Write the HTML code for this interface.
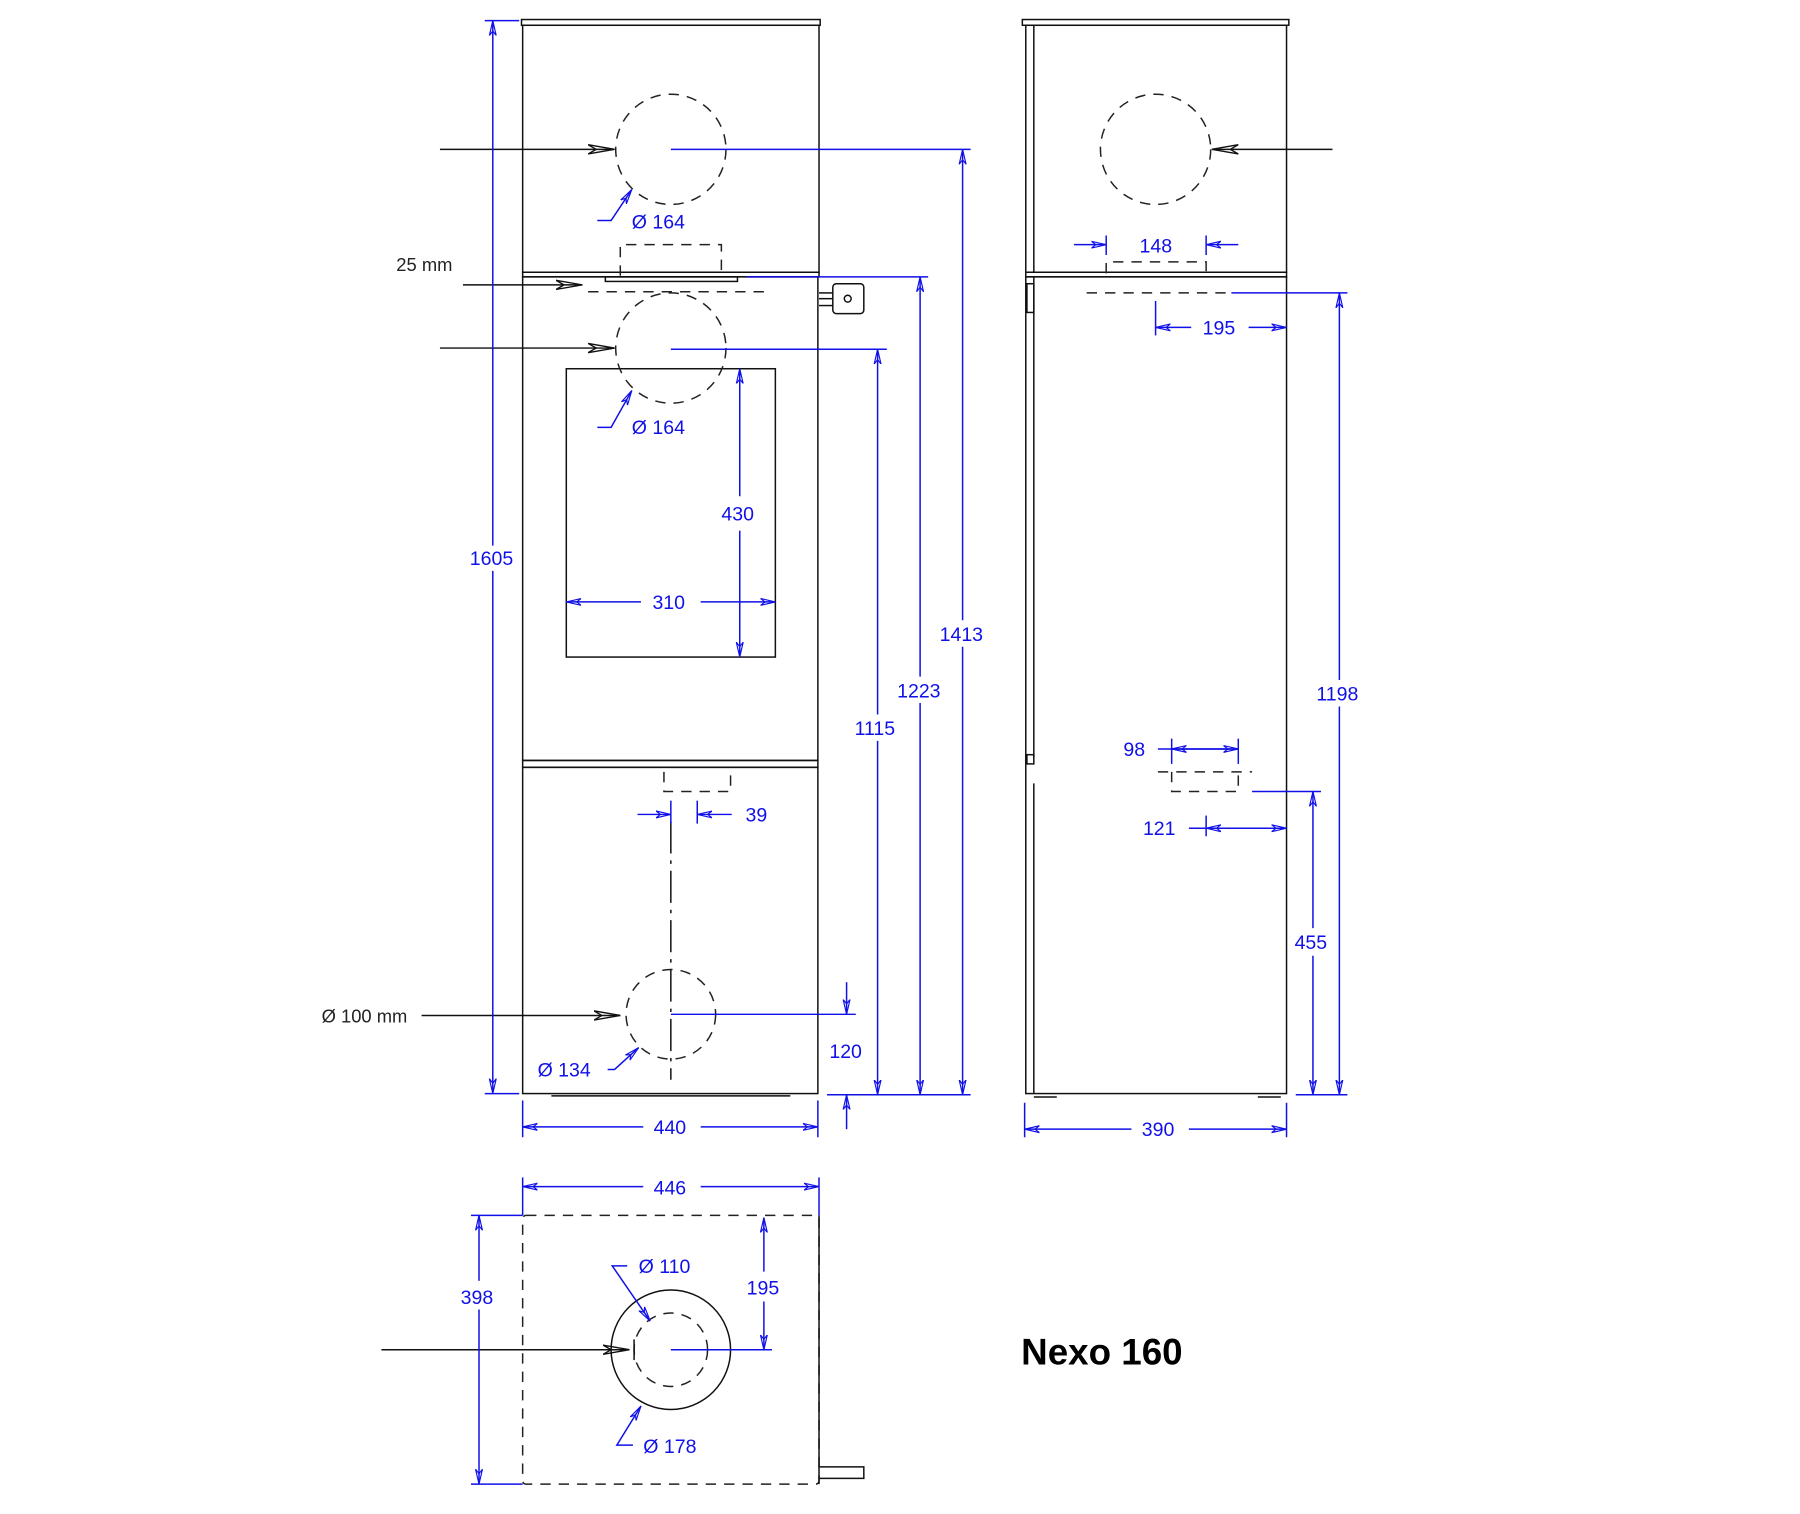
<!DOCTYPE html>
<html><head><meta charset="utf-8"><style>
html,body{margin:0;padding:0;background:#fff;}
svg{display:block;}
text{font-family:"Liberation Sans",sans-serif;}
.k{stroke:#111;stroke-width:1.3;fill:none;}
.d{stroke:#222;stroke-width:1.3;fill:none;stroke-dasharray:9 7;}
.b{stroke:#1010e8;stroke-width:1.3;fill:none;}
.t{fill:#1010e8;font-size:17px;}
</style></head><body>
<svg width="1800" height="1514" viewBox="0 0 1567 1318" preserveAspectRatio="none">
<defs>
<marker id="a" viewBox="0 0 14 8" refX="13" refY="4" markerWidth="14" markerHeight="8" markerUnits="userSpaceOnUse" orient="auto-start-reverse"><path d="M0,1 L13,4 L0,7 L4,4 Z" fill="none" stroke="#1010e8" stroke-width="1"/></marker>
<marker id="k" viewBox="0 0 24 10" refX="23" refY="5" markerWidth="24" markerHeight="10" markerUnits="userSpaceOnUse" orient="auto"><path d="M0,1 L23,5 L0,9 L7,5 Z" fill="none" stroke="#111" stroke-width="1.2"/></marker>
</defs>

<!-- FRONT VIEW -->
<rect class="k" x="454" y="17" width="260" height="5"/>
<rect class="k" x="455" y="22" width="258" height="215"/>
<rect class="k" x="455" y="237" width="258" height="4"/>
<rect class="k" x="455" y="241" width="257" height="421"/>
<rect class="k" x="455" y="662" width="257" height="6"/>
<rect class="k" x="455" y="668" width="257" height="284"/>
<line class="k" x1="480" y1="954" x2="688" y2="954"/>
<rect class="k" x="493" y="321" width="182" height="251"/>
<circle class="d" cx="584" cy="130" r="48"/>
<circle class="d" cx="584" cy="303" r="48"/>
<circle class="d" cx="584" cy="883" r="39"/>
<path class="d" d="M540,240 V213 H628 V240"/>
<rect class="k" x="527" y="241" width="115" height="4"/>
<path class="d" d="M512,254 H666"/>
<rect class="k" x="725" y="247" width="27" height="26" rx="3"/>
<circle class="k" cx="738" cy="260" r="3"/>
<line class="k" x1="713" y1="255" x2="725" y2="255"/><line class="k" x1="713" y1="260" x2="725" y2="260"/><line class="k" x1="713" y1="266" x2="725" y2="266"/>
<path class="d" d="M578,672 V689 H636 V672"/>
<line class="k" x1="584" y1="715" x2="584" y2="940" stroke-dasharray="28 6 3 6"/>

<!-- black arrows -->
<line class="k" x1="383" y1="130" x2="535" y2="130" marker-end="url(#k)"/>
<line class="k" x1="383" y1="303" x2="535" y2="303" marker-end="url(#k)"/>
<line class="k" x1="403" y1="248" x2="507" y2="248" marker-end="url(#k)"/>
<line class="k" x1="367" y1="884" x2="540" y2="884" marker-end="url(#k)"/>
<text x="345" y="236" font-size="16" fill="#222">25 mm</text>
<text x="280" y="890" font-size="16" fill="#222">Ø 100 mm</text>

<!-- front dims -->
<line class="b" x1="422" y1="18" x2="452" y2="18"/><line class="b" x1="422" y1="952" x2="452" y2="952"/>
<line class="b" x1="429" y1="18" x2="429" y2="475" marker-start="url(#a)"/>
<line class="b" x1="429" y1="497" x2="429" y2="952" marker-end="url(#a)"/>
<text class="t" x="409" y="492">1605</text>

<line class="b" x1="584" y1="130" x2="845" y2="130"/>
<line class="b" x1="838" y1="130" x2="838" y2="540" marker-start="url(#a)"/>
<line class="b" x1="838" y1="563" x2="838" y2="953" marker-end="url(#a)"/>
<text class="t" x="818" y="558">1413</text>

<line class="b" x1="650" y1="241" x2="808" y2="241"/>
<line class="b" x1="801" y1="241" x2="801" y2="589" marker-start="url(#a)"/>
<line class="b" x1="801" y1="612" x2="801" y2="953" marker-end="url(#a)"/>
<text class="t" x="781" y="607">1223</text>

<line class="b" x1="584" y1="304" x2="772" y2="304"/>
<line class="b" x1="764" y1="304" x2="764" y2="622" marker-start="url(#a)"/>
<line class="b" x1="764" y1="645" x2="764" y2="953" marker-end="url(#a)"/>
<text class="t" x="744" y="640">1115</text>

<line class="b" x1="584" y1="883" x2="745" y2="883"/>
<line class="b" x1="720" y1="953" x2="845" y2="953"/>
<line class="b" x1="737" y1="855" x2="737" y2="883" marker-end="url(#a)"/>
<line class="b" x1="737" y1="983" x2="737" y2="953" marker-end="url(#a)"/>
<text class="t" x="722" y="921">120</text>

<line class="b" x1="455" y1="958" x2="455" y2="990"/><line class="b" x1="712" y1="958" x2="712" y2="990"/>
<line class="b" x1="455" y1="981" x2="560" y2="981" marker-start="url(#a)"/>
<line class="b" x1="610" y1="981" x2="712" y2="981" marker-end="url(#a)"/>
<text class="t" x="569" y="987">440</text>

<line class="b" x1="644" y1="321" x2="644" y2="432" marker-start="url(#a)"/>
<line class="b" x1="644" y1="462" x2="644" y2="572" marker-end="url(#a)"/>
<text class="t" x="628" y="453">430</text>
<line class="b" x1="493" y1="524" x2="558" y2="524" marker-start="url(#a)"/>
<line class="b" x1="610" y1="524" x2="675" y2="524" marker-end="url(#a)"/>
<text class="t" x="568" y="530">310</text>

<line class="b" x1="584" y1="697" x2="584" y2="717"/><line class="b" x1="607" y1="697" x2="607" y2="717"/>
<line class="b" x1="555" y1="709" x2="584" y2="709" marker-end="url(#a)"/>
<line class="b" x1="637" y1="709" x2="607" y2="709" marker-end="url(#a)"/>
<text class="t" x="649" y="715">39</text>

<path class="b" d="M520,192 H532 L550,165" marker-end="url(#a)"/>
<text class="t" x="550" y="199">Ø 164</text>
<path class="b" d="M520,372 H532 L550,340" marker-end="url(#a)"/>
<text class="t" x="550" y="378">Ø 164</text>
<path class="b" d="M529,931 H535 L556,912" marker-end="url(#a)"/>
<text class="t" x="468" y="937">Ø 134</text>

<!-- SIDE VIEW -->
<rect class="k" x="890" y="17" width="232" height="5"/>
<rect class="k" x="893" y="22" width="227" height="215"/>
<line class="k" x1="900" y1="22" x2="900" y2="237"/>
<rect class="k" x="893" y="237" width="227" height="4"/>
<rect class="k" x="893" y="241" width="227" height="711"/>
<line class="k" x1="900" y1="241" x2="900" y2="660"/>
<line class="k" x1="900" y1="682" x2="900" y2="952"/>
<rect class="k" x="894" y="247" width="6" height="25"/>
<rect class="k" x="894" y="657" width="6" height="8"/>
<line class="k" x1="900" y1="955" x2="920" y2="955"/><line class="k" x1="1095" y1="955" x2="1115" y2="955"/>
<circle class="d" cx="1006" cy="130" r="48"/>
<line class="k" x1="1160" y1="130" x2="1055" y2="130" marker-end="url(#k)"/>
<path class="d" d="M963,238 V228 H1050 V238"/>
<path class="d" d="M946,255 H1070"/>

<line class="b" x1="963" y1="205" x2="963" y2="222"/><line class="b" x1="1050" y1="205" x2="1050" y2="222"/>
<line class="b" x1="935" y1="213" x2="963" y2="213" marker-end="url(#a)"/>
<line class="b" x1="1078" y1="213" x2="1050" y2="213" marker-end="url(#a)"/>
<text class="t" x="992" y="220">148</text>

<line class="b" x1="1006" y1="262" x2="1006" y2="292"/>
<line class="b" x1="1006" y1="285" x2="1037" y2="285" marker-start="url(#a)"/>
<line class="b" x1="1087" y1="285" x2="1120" y2="285" marker-end="url(#a)"/>
<text class="t" x="1047" y="291">195</text>

<line class="b" x1="1072" y1="255" x2="1173" y2="255"/>
<line class="b" x1="1128" y1="953" x2="1173" y2="953"/>
<line class="b" x1="1166" y1="255" x2="1166" y2="592" marker-start="url(#a)"/>
<line class="b" x1="1166" y1="615" x2="1166" y2="953" marker-end="url(#a)"/>
<text class="t" x="1146" y="610">1198</text>

<line class="b" x1="1020" y1="643" x2="1020" y2="665"/><line class="b" x1="1078" y1="643" x2="1078" y2="665"/>
<line class="b" x1="1008" y1="652" x2="1078" y2="652"/>
<line class="b" x1="1049" y1="652" x2="1020" y2="652" marker-end="url(#a)"/>
<line class="b" x1="1049" y1="652" x2="1078" y2="652" marker-end="url(#a)"/>
<text class="t" x="978" y="658">98</text>
<path class="d" d="M1008,672 H1090 M1020,672 V689 H1078 V672"/>

<line class="b" x1="1050" y1="710" x2="1050" y2="728"/>
<line class="b" x1="1035" y1="721" x2="1120" y2="721"/>
<line class="b" x1="1085" y1="721" x2="1050" y2="721" marker-end="url(#a)"/>
<line class="b" x1="1085" y1="721" x2="1120" y2="721" marker-end="url(#a)"/>
<text class="t" x="995" y="727">121</text>

<line class="b" x1="1090" y1="689" x2="1150" y2="689"/>
<line class="b" x1="1143" y1="689" x2="1143" y2="808" marker-start="url(#a)"/>
<line class="b" x1="1143" y1="832" x2="1143" y2="953" marker-end="url(#a)"/>
<text class="t" x="1127" y="826">455</text>

<line class="b" x1="892" y1="960" x2="892" y2="990"/><line class="b" x1="1120" y1="960" x2="1120" y2="990"/>
<line class="b" x1="892" y1="983" x2="985" y2="983" marker-start="url(#a)"/>
<line class="b" x1="1035" y1="983" x2="1120" y2="983" marker-end="url(#a)"/>
<text class="t" x="994" y="989">390</text>

<!-- PLAN VIEW -->
<rect class="d" x="455" y="1058" width="258" height="234" rx="3"/>
<line class="k" x1="713" y1="1058" x2="713" y2="1292"/>
<path class="k" d="M713,1277 H752 V1287 H713"/>
<circle class="k" cx="584" cy="1175" r="52"/>
<circle class="d" cx="584" cy="1175" r="32" stroke-dasharray="8 6"/>
<line class="k" x1="332" y1="1175" x2="548" y2="1175" marker-end="url(#k)"/>
<line class="k" x1="552" y1="1166" x2="552" y2="1184"/>

<line class="b" x1="455" y1="1025" x2="455" y2="1058"/><line class="b" x1="713" y1="1025" x2="713" y2="1058"/>
<line class="b" x1="455" y1="1033" x2="560" y2="1033" marker-start="url(#a)"/>
<line class="b" x1="610" y1="1033" x2="713" y2="1033" marker-end="url(#a)"/>
<text class="t" x="569" y="1040">446</text>

<line class="b" x1="410" y1="1058" x2="455" y2="1058"/><line class="b" x1="410" y1="1292" x2="455" y2="1292"/>
<line class="b" x1="417" y1="1058" x2="417" y2="1115" marker-start="url(#a)"/>
<line class="b" x1="417" y1="1140" x2="417" y2="1292" marker-end="url(#a)"/>
<text class="t" x="401" y="1135">398</text>

<line class="b" x1="584" y1="1175" x2="672" y2="1175"/>
<line class="b" x1="665" y1="1060" x2="665" y2="1107" marker-start="url(#a)"/>
<line class="b" x1="665" y1="1133" x2="665" y2="1175" marker-end="url(#a)"/>
<text class="t" x="650" y="1127">195</text>

<path class="b" d="M546,1102 H533 L566,1150" marker-end="url(#a)"/>
<text class="t" x="556" y="1108">Ø 110</text>
<path class="b" d="M551,1258 H537 L558,1224" marker-end="url(#a)"/>
<text class="t" x="560" y="1265">Ø 178</text>

<text x="889" y="1188" font-size="32" font-weight="bold" fill="#000">Nexo 160</text>
</svg>
</body></html>
